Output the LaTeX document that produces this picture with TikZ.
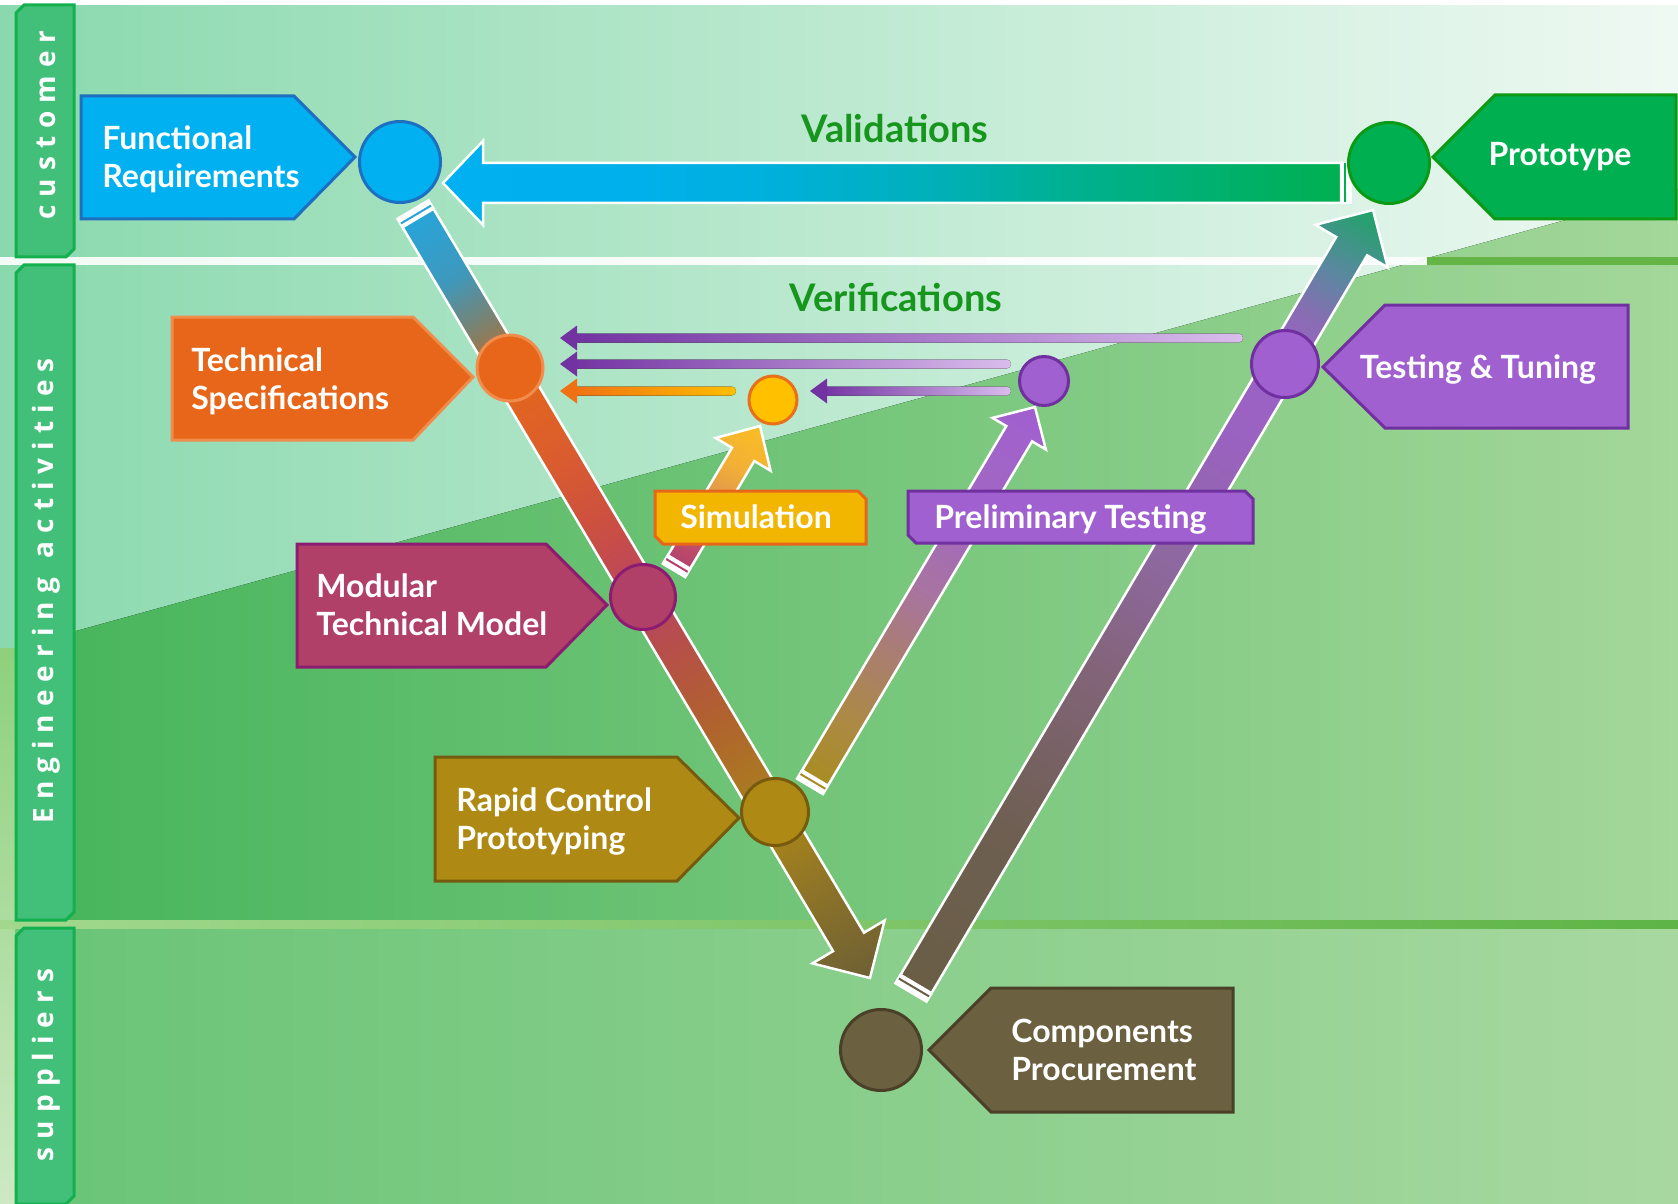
\documentclass[tikz,border=0pt]{standalone}
\usepackage{fontspec}
\setmainfont{Lato}
\newfontfamily\tabfont{Open Sans}

% ---------- colours ----------
\definecolor{bgA}{HTML}{8AD9AE}
\definecolor{bgB}{HTML}{B2E4C8}
\definecolor{bgC}{HTML}{EFF9F3}
\definecolor{gnA}{HTML}{44B45A}
\definecolor{gnB}{HTML}{70C476}
\definecolor{gnC}{HTML}{A4D79A}
\definecolor{gbA}{HTML}{68C476}
\definecolor{gbB}{HTML}{7ACC86}
\definecolor{gbC}{HTML}{A8D8A0}
\definecolor{edgeA}{HTML}{8ED07C}
\definecolor{edgeB}{HTML}{CDE9C4}
\definecolor{stripG}{HTML}{64B446}
\definecolor{stripL}{HTML}{A2D88E}
\definecolor{stripR}{HTML}{5EB446}
\definecolor{tabfill}{HTML}{42C07A}
\definecolor{tabline}{HTML}{12B04E}
\definecolor{titlegreen}{HTML}{16961C}
\definecolor{frFill}{HTML}{00B0F0}
\definecolor{frLine}{HTML}{1F6FC0}
\definecolor{protoFill}{HTML}{00B050}
\definecolor{protoLine}{HTML}{0C9A14}
\definecolor{tsFill}{HTML}{E8661A}
\definecolor{tsLine}{HTML}{F08C4C}
\definecolor{mtmFill}{HTML}{B04068}
\definecolor{mtmLine}{HTML}{8C1C72}
\definecolor{rcpFill}{HTML}{AE8A14}
\definecolor{rcpLine}{HTML}{765A0E}
\definecolor{cpFill}{HTML}{6B6040}
\definecolor{cpLine}{HTML}{4A4028}
\definecolor{ttFill}{HTML}{A060D0}
\definecolor{ttLine}{HTML}{7030A0}
\definecolor{simFill}{HTML}{F2B600}
\definecolor{simLine}{HTML}{E8661A}
\definecolor{simDot}{HTML}{FFC000}
\definecolor{simDotLine}{HTML}{E8701A}
\definecolor{vpA}{HTML}{7232A2}
\definecolor{vpB}{HTML}{D9BDEC}
\definecolor{voA}{HTML}{F07014}
\definecolor{voB}{HTML}{FFBE00}
% left arm
\definecolor{la0}{HTML}{28A4D8}
\definecolor{la1}{HTML}{3F98BC}
\definecolor{la2}{HTML}{867E62}
\definecolor{la3}{HTML}{E4661C}
\definecolor{la4}{HTML}{DC5E2C}
\definecolor{la5}{HTML}{CC5040}
\definecolor{la6}{HTML}{B84462}
\definecolor{la7}{HTML}{B65048}
\definecolor{la8}{HTML}{B0622E}
\definecolor{la9}{HTML}{AA7C20}
\definecolor{la10}{HTML}{A8841A}
\definecolor{la11}{HTML}{8E7428}
\definecolor{la12}{HTML}{6E6034}
% right arm
\definecolor{ra0}{HTML}{6A5E46}
\definecolor{ra1}{HTML}{6E5F52}
\definecolor{ra2}{HTML}{826478}
\definecolor{ra3}{HTML}{8E68A0}
\definecolor{ra4}{HTML}{9A62C0}
\definecolor{ra5}{HTML}{9C62C8}
\definecolor{ra6}{HTML}{8A6CB4}
\definecolor{ra7}{HTML}{5A88A0}
\definecolor{ra8}{HTML}{1EA466}
% simulation
\definecolor{sa0}{HTML}{B4426E}
\definecolor{sa1}{HTML}{C0506A}
\definecolor{sa2}{HTML}{E29A4C}
\definecolor{sa3}{HTML}{F2B036}
\definecolor{sa4}{HTML}{FBBD24}
% preliminary
\definecolor{pa0}{HTML}{A88C24}
\definecolor{pa1}{HTML}{AC8A44}
\definecolor{pa2}{HTML}{AA8068}
\definecolor{pa3}{HTML}{A874A0}
\definecolor{pa4}{HTML}{A268C0}
\definecolor{pa5}{HTML}{A060D0}
% validations
\definecolor{va0}{HTML}{00B050}
\definecolor{va1}{HTML}{00B090}
\definecolor{va2}{HTML}{00B0B8}
\definecolor{va3}{HTML}{00B0DE}
\definecolor{va4}{HTML}{00B0EC}
\definecolor{va5}{HTML}{00B0F0}

\pgfdeclarehorizontalshading{larm}{100bp}{color(0bp)=(la0); color(25bp)=(la0); color(29bp)=(la1); color(32.5bp)=(la2); color(35.5bp)=(la3); color(40bp)=(la4); color(45bp)=(la5); color(50bp)=(la6); color(53.5bp)=(la7); color(58bp)=(la8); color(63bp)=(la9); color(65bp)=(la10); color(69bp)=(la11); color(75bp)=(la12); color(100bp)=(la12)}
\pgfdeclarehorizontalshading{rarm}{100bp}{color(0bp)=(ra0); color(25bp)=(ra0); color(35bp)=(ra1); color(45bp)=(ra2); color(52.5bp)=(ra3); color(60bp)=(ra4); color(65bp)=(ra5); color(68bp)=(ra6); color(71bp)=(ra7); color(75bp)=(ra8); color(100bp)=(ra8)}
\pgfdeclarehorizontalshading{sarr}{100bp}{color(0bp)=(sa0); color(25bp)=(sa0); color(32.5bp)=(sa1); color(50bp)=(sa2); color(60bp)=(sa3); color(75bp)=(sa4); color(100bp)=(sa4)}
\pgfdeclarehorizontalshading{parr}{100bp}{color(0bp)=(pa0); color(25bp)=(pa0); color(32.5bp)=(pa1); color(40bp)=(pa2); color(50bp)=(pa3); color(60bp)=(pa4); color(75bp)=(pa5); color(100bp)=(pa5)}
\pgfdeclarehorizontalshading{varr}{100bp}{color(0bp)=(va0); color(25bp)=(va0); color(40bp)=(va1); color(47.5bp)=(va2); color(57.5bp)=(va3); color(65bp)=(va4); color(75bp)=(va5); color(100bp)=(va5)}

% letter-spaced text
\makeatletter
\newcommand\lsp[1]{\@tfor\lsp@c:=#1\do{\lsp@c\kern4pt}\unkern}
\makeatother

% block arrow: #1 tail coord, #2 angle, #3 length, #4 shaft half width,
% #5 head half width, #6 head length, #7 shading, #8 stripe colour
\newcommand\bigarrow[8]{%
  \begin{scope}[transform canvas={shift={#1},rotate=#2}]
    \fill[white] (-11,{-#4-1.3}) rectangle (0,{#4+1.3});
    \draw[#8, line width=1pt] (-4,{-#4+0.5}) -- (-4,{#4-0.5});
    \draw[white, line width=1.25pt, line join=miter, shading=#7]
      (0,-#4) -- ({#3-#6},-#4) -- ({#3-#6},-#5) -- (#3,0)
      -- ({#3-#6},#5) -- ({#3-#6},#4) -- (0,#4) -- cycle;
  \end{scope}}

\begin{document}
\begin{tikzpicture}[x=0.5pt,y=-0.5pt,
  box/.style={line width=1.5pt, line join=miter},
  dot/.style={circle, line width=1.5pt, inner sep=0pt},
  lbl/.style={text=white, font=\bfseries\fontsize{16}{19}\selectfont, align=left, inner sep=0pt},
  ttl/.style={text=titlegreen, font=\bfseries\fontsize{19}{22}\selectfont, inner sep=0pt},
  tabbox/.style={fill=tabfill, draw=tabline, line width=1.5pt, line join=miter},
  tabtxt/.style={rotate=90, text=white, font=\tabfont\bfseries\fontsize{14}{14}\selectfont, inner sep=0pt}]
\useasboundingbox (0,0) rectangle (1678,1204);

% ---------- background ----------
\fill[left color=bgA, middle color=bgB, right color=bgC] (0,0) rectangle (1678,1204);
\fill[white] (0,0) rectangle (1678,5);
\fill[left color=gnA, middle color=gnB, right color=gnC] (0,652) -- (1678,189) -- (1678,1204) -- (0,1204) -- cycle;
\fill[left color=gbA, middle color=gbB, right color=gbC] (0,928) rectangle (1678,1204);
\fill[top color=edgeA, bottom color=edgeB] (0,648) rectangle (15,1204);
\fill[white, fill opacity=0.9] (0,257) rectangle (1427,265);
\fill[stripG] (1427,257) rectangle (1678,265);
\fill[left color=stripL, right color=stripR] (0,920) rectangle (1678,928);

% ---------- lane tabs ----------
\draw[tabbox] (16,13) -- (24,5) -- (74,5) -- (74,249) -- (66,257) -- (16,257) -- cycle;
\draw[tabbox] (16,273) -- (24,265) -- (74,265) -- (74,912) -- (66,920) -- (16,920) -- cycle;
\draw[tabbox] (16,936) -- (24,928) -- (74,928) -- (74,1196) -- (66,1204) -- (16,1204) -- cycle;
\node[tabtxt] (lane1) at (46,125) {\lsp{customer}};
\node[tabtxt] (lane2) at (46,591) {\lsp{Engineering}\hspace{10pt}\lsp{activities}};
\node[tabtxt] (lane3) at (46,1065) {\lsp{suppliers}};

% ---------- big arrows ----------
\coordinate (lt) at (418,218);
\coordinate (rt) at (916,984);
\coordinate (vt) at (1341,183);
\coordinate (st) at (679,562);
\coordinate (pt) at (815,778);
\bigarrow{(lt)}{-59.26}{884.3}{18}{42}{42}{larm}{la0}
\bigarrow{(rt)}{59.44}{898.9}{18}{42}{42}{rarm}{ra0}
\bigarrow{(vt)}{180}{898}{20}{42}{40}{varr}{va0}
\bigarrow{(st)}{59.22}{158.3}{13}{32}{33}{sarr}{sa0}
\bigarrow{(pt)}{59.33}{431.3}{15}{31}{31}{parr}{pa0}

% ---------- verification arrows ----------
\fill[left color=vpA, right color=vpB, rounded corners=2.2pt] (570,333.5) rectangle (1243,342.5);
\fill[vpA] (560,338) -- (577,325.5) -- (577,350.5) -- cycle;
\fill[left color=vpA, right color=vpB, rounded corners=2.2pt] (570,359.5) rectangle (1011,368.5);
\fill[vpA] (560,364) -- (577,351.5) -- (577,376.5) -- cycle;
\fill[left color=voA, right color=voB, rounded corners=2.2pt] (570,386.5) rectangle (736,395.5);
\fill[voA] (560,391) -- (577,378.5) -- (577,403.5) -- cycle;
\fill[left color=vpA, right color=vpB, rounded corners=2.2pt] (820,386.5) rectangle (1011,395.5);
\fill[vpA] (810,391) -- (827,378.5) -- (827,403.5) -- cycle;

% ---------- circles ----------
\node[dot, fill=frFill, draw=frLine, minimum size=40.5pt] (cfr) at (400,162) {};
\node[dot, fill=protoFill, draw=protoLine, minimum size=40.5pt] (cproto) at (1389,163) {};
\node[dot, fill=tsFill, draw=tsLine, minimum size=33pt] (cts) at (510,368) {};
\node[dot, fill=mtmFill, draw=mtmLine, minimum size=32.5pt] (cmtm) at (643,597) {};
\node[dot, fill=rcpFill, draw=rcpLine, minimum size=33.5pt] (crcp) at (775,812) {};
\node[dot, fill=cpFill, draw=cpLine, minimum size=40.5pt] (ccp) at (881,1050) {};
\node[dot, fill=ttFill, draw=ttLine, minimum size=33.5pt] (ctt) at (1285,364) {};
\node[dot, fill=simDot, draw=simDotLine, minimum size=24pt] (csim) at (773,400) {};
\node[dot, fill=ttFill, draw=ttLine, minimum size=24.5pt] (cpre) at (1044,381) {};

% ---------- boxes ----------
\draw[box, fill=frFill, draw=frLine] (81,96) -- (294,96) -- (355,157) -- (294,219) -- (81,219) -- cycle;
\node[lbl, anchor=north west] (fr) at (102,125) {Functional\\Requirements};

\draw[box, fill=tsFill, draw=tsLine] (172,317) -- (413,317) -- (473,377) -- (413,440) -- (172,440) -- cycle;
\node[lbl, anchor=north west] (ts) at (191,347) {Technical\\Specifications};

\draw[box, fill=mtmFill, draw=mtmLine] (297,544) -- (546,544) -- (607,605) -- (546,667) -- (297,667) -- cycle;
\node[lbl, anchor=north west] (mtm) at (316,573) {Modular\\Technical Model};

\draw[box, fill=rcpFill, draw=rcpLine] (435,757) -- (677,757) -- (739,818) -- (677,881) -- (435,881) -- cycle;
\node[lbl, anchor=north west] (rcp) at (456,787) {Rapid Control\\Prototyping};

\draw[box, fill=protoFill, draw=protoLine] (1433,157) -- (1495,95) -- (1676,95) -- (1676,219) -- (1495,219) -- cycle;
\node[lbl, anchor=base] (proto) at (1560,166) {Prototype};

\draw[box, fill=ttFill, draw=ttLine] (1323,367) -- (1385,305) -- (1628,305) -- (1628,428) -- (1385,428) -- cycle;
\node[lbl, anchor=base] (tt) at (1478,379) {Testing \& Tuning};

\draw[box, fill=cpFill, draw=cpLine] (929,1050) -- (991,988) -- (1233,988) -- (1233,1112) -- (991,1112) -- cycle;
\node[lbl, anchor=north west] (cp) at (1011,1019) {Components\\Procurement};

\draw[box, fill=simFill, draw=simLine] (655,491) -- (858,491) -- (866,499) -- (866,544) -- (663,544) -- (655,536) -- cycle;
\node[lbl, anchor=base] (sim) at (756,528) {Simulation};

\draw[box, fill=ttFill, draw=ttLine] (908,491) -- (1245,491) -- (1253,499) -- (1253,543) -- (916,543) -- (908,535) -- cycle;
\node[lbl, anchor=base west] (pre) at (934,528) {Preliminary Testing};

% ---------- titles ----------
\node[ttl, anchor=base] (val) at (895,143) {Validations};
\node[ttl, anchor=base] (ver) at (896,312) {Verifications};
\end{tikzpicture}
\end{document}
